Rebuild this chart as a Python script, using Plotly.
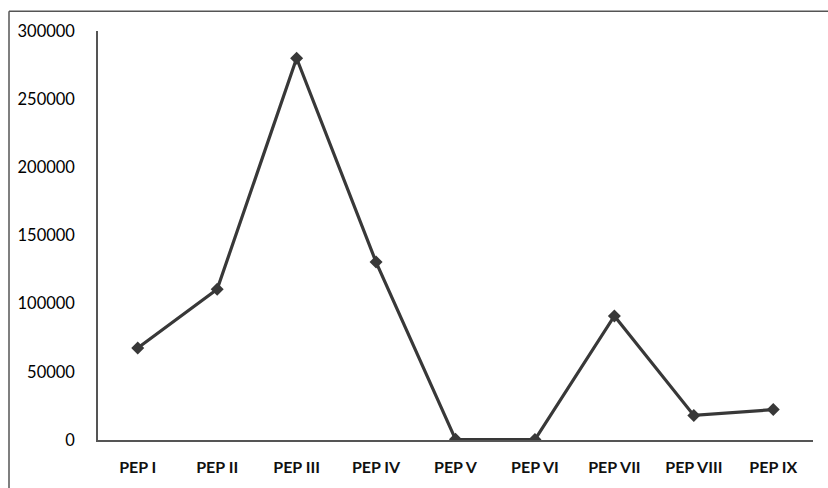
import plotly.graph_objects as go

categories = ["PEP I", "PEP II", "PEP III", "PEP IV", "PEP V", "PEP VI", "PEP VII", "PEP VIII", "PEP IX"]
values = [67500, 110500, 280000, 130500, 500, 300, 91000, 18000, 22300]
y_ticks = [0, 50000, 100000, 150000, 200000, 250000, 300000]

FONT = "Lato"

fig = go.Figure()
fig.add_trace(go.Scatter(
    x=categories, y=values, mode="lines+markers",
    line=dict(color="#383838", width=3.2),
    marker=dict(symbol="diamond", size=10, color="#383838"),
    showlegend=False,
))

fig.update_layout(
    width=828, height=488,
    margin=dict(l=98, r=15, t=31, b=45),
    paper_bgcolor="white", plot_bgcolor="white",
    font=dict(family=FONT, size=16, color="#111111"),
    xaxis=dict(
        type="category", range=[-0.5, 8.5],
        showgrid=False, zeroline=False,
        showline=True, linecolor="#555555", linewidth=1.5,
        ticks="outside", ticklen=0, ticklabelstandoff=12,
        tickfont=dict(family=FONT, size=16, color="#111111", weight="bold"),
    ),
    yaxis=dict(
        range=[0, 300000], tickvals=y_ticks,
        ticktext=[str(v) for v in y_ticks],
        showgrid=False, zeroline=False,
        showline=True, linecolor="#555555", linewidth=1.5,
        ticks="outside", ticklen=0, ticklabelstandoff=18,
        tickfont=dict(family=FONT, size=16.5, color="#000000"),
    ),
)

# outer border (top and left edges of the chart frame)
x_left = (9 - 98) / 715
y_top = (443 - 11) / 412
fig.add_shape(type="line", xref="paper", yref="paper",
              x0=x_left, x1=1.1, y0=y_top, y1=y_top,
              line=dict(color="#555555", width=1.5))
fig.add_shape(type="line", xref="paper", yref="paper",
              x0=x_left, x1=x_left, y0=y_top, y1=-0.2,
              line=dict(color="#555555", width=1.5))

fig.write_html("out.html")
